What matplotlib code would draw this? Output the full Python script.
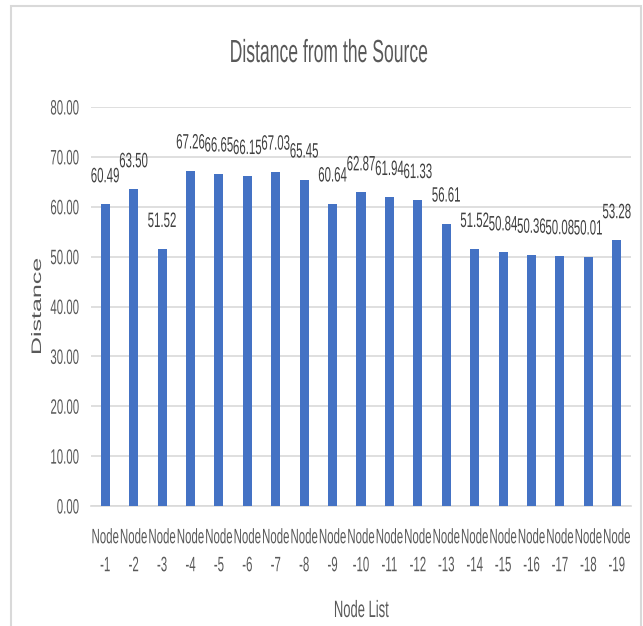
#!/usr/bin/env python3
# -*- coding: utf-8 -*-

import matplotlib
matplotlib.use('Agg')
import matplotlib.pyplot as plt
from matplotlib.patches import Rectangle
from matplotlib.patheffects import AbstractPathEffect
from matplotlib.transforms import Affine2D

nodes = ['Node\n-{}'.format(i) for i in range(1, 20)]
distance = [60.49, 63.50, 51.52, 67.26, 66.65, 66.15, 67.03, 65.45, 60.64, 62.87,
            61.94, 61.33, 56.61, 51.52, 50.84, 50.36, 50.08, 50.01, 53.28]
y_ticks = [0, 10, 20, 30, 40, 50, 60, 70, 80]


class Squeeze(AbstractPathEffect):
    # the original picture is squashed sideways, so squash the glyphs the same way
    def __init__(self, sx=0.55, anchor='center'):
        super().__init__()
        self.sx = sx
        self.anchor = anchor

    def draw_path(self, renderer, gc, tpath, affine, rgbFace=None):
        ext = tpath.get_extents(affine)
        if self.anchor == 'right':
            cx = ext.x1
        else:
            cx = (ext.x0 + ext.x1) / 2
        new_affine = affine + Affine2D().translate(-cx, 0).scale(self.sx, 1).translate(cx, 0)
        renderer.draw_path(gc, tpath, new_affine, rgbFace)


plt.rcParams['font.family'] = ['Liberation Sans', 'DejaVu Sans']

text_grey = '#595959'
bar_blue = '#4472C4'
grid_grey = '#D9D9D9'
squeeze = [Squeeze(0.55)]

fig = plt.figure(figsize=(6.43, 6.26), dpi=100)
ax = fig.add_axes([91 / 643, 1 - 506 / 626, 540 / 643, 399 / 626])

x = list(range(len(nodes)))
ax.bar(x, distance, width=0.32, color=bar_blue, zorder=3)
for xi, v in zip(x, distance):
    ax.annotate('{:.2f}'.format(v), (xi, v), xytext=(0, 13), textcoords='offset points',
                ha='center', va='bottom', fontsize=15, color='#404040', path_effects=squeeze)

ax.set_xlim(-0.5, len(nodes) - 0.5)
ax.set_ylim(0, 80)
ax.set_yticks(y_ticks)
ax.set_yticklabels(['{:.2f}'.format(t) for t in y_ticks], fontsize=15, color=text_grey)
for lab in ax.get_yticklabels():
    lab.set_path_effects([Squeeze(0.55, anchor='right')])
ax.set_xticks(x)
ax.set_xticklabels(nodes, fontsize=15, color=text_grey, linespacing=1.6)
for lab in ax.get_xticklabels():
    lab.set_path_effects(squeeze)
ax.tick_params(axis='both', length=0)
ax.tick_params(axis='y', pad=8)
ax.tick_params(axis='x', pad=16)
ax.grid(axis='y', color=grid_grey, linewidth=1.2, zorder=0)
for side in ['top', 'right', 'left']:
    ax.spines[side].set_visible(False)
ax.spines['bottom'].set_color(grid_grey)
ax.spines['bottom'].set_linewidth(1.2)

ax.set_xlabel('Node List', fontsize=17, color=text_grey, path_effects=squeeze)
ax.xaxis.set_label_coords(0.5, -(617 - 506) / 399, transform=ax.transAxes)
ax.xaxis.label.set_va('baseline')
ax.set_ylabel('Distance', fontsize=18, color=text_grey, path_effects=squeeze)
ax.yaxis.set_label_coords(-(91 - 38) / 540, 0.5)
ax.yaxis.label.set_va('center')

fig.text(329 / 643, 1 - 62 / 626, 'Distance from the Source', ha='center', va='baseline',
         fontsize=23, color=text_grey, path_effects=squeeze)

# chart border
fig.patches.append(Rectangle((11 / 643, -0.01), 630 / 643, 1.01 - 6 / 626, transform=fig.transFigure,
                             fill=False, edgecolor=grid_grey, linewidth=1.5))

plt.savefig('out.png', dpi=100)
